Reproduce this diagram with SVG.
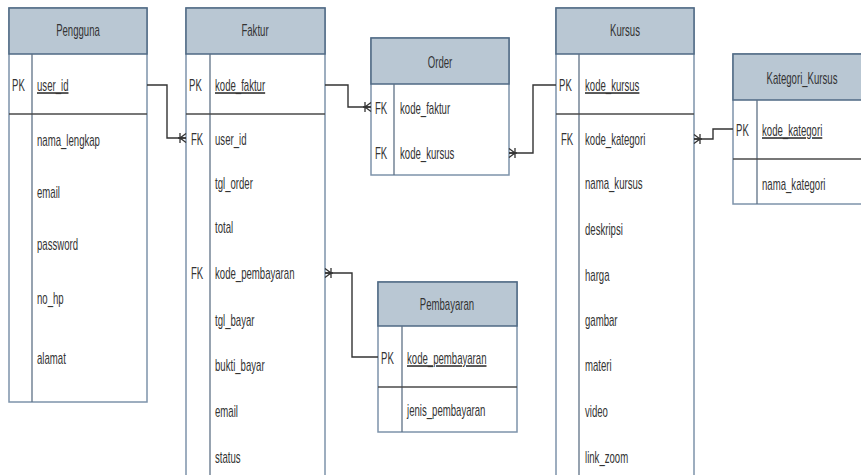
<svg xmlns="http://www.w3.org/2000/svg" width="861" height="475" viewBox="0 0 861 475">
<style>
.bg{fill:#ffffff}
.body{fill:#ffffff;stroke:#7d93aa;stroke-width:1.5}
.head{fill:#b9c7d3;stroke:#4f6984;stroke-width:1.5}
.pkdiv{stroke:#4a4a4a;stroke-width:1.6}
.coldiv{stroke:#5f7186;stroke-width:1.3}
text{font-family:"Liberation Sans",Arial,sans-serif;font-size:16px;fill:#333333}
.ttl{text-anchor:middle}
.u{text-decoration:underline}
.conn{fill:none;stroke:#333333;stroke-width:1.4}
</style>
<defs>
<marker id="many" markerUnits="userSpaceOnUse" viewBox="-10 -7 12 14" markerWidth="12" markerHeight="14" refX="0" refY="0" orient="auto-start-reverse" overflow="visible">
<path d="M-6,0 L0,-4.5 M-6,0 L0,4.5 M-6,-5 L-6,5 M-8,0 L0,0" fill="none" stroke="#333333" stroke-width="1.3"/>
</marker>
</defs>
<rect class="bg" x="0" y="0" width="861" height="475"/>

<g id="Pengguna">
<rect class="body" x="9" y="8" width="138" height="394"/>
<rect class="head" x="9" y="8" width="138" height="46"/>
<line class="coldiv" x1="32" y1="54" x2="32" y2="402"/>
<line class="pkdiv" x1="9" y1="114" x2="147" y2="114"/>
<text class="ttl" transform="translate(78 36) scale(.6 1)">Pengguna</text>
<text transform="translate(12 91) scale(.6 1)">PK</text>
<text class="u" transform="translate(37 91) scale(.6 1)">user_id</text>
<text transform="translate(37 146) scale(.6 1)">nama_lengkap</text>
<text transform="translate(37 198) scale(.6 1)">email</text>
<text transform="translate(37 250) scale(.6 1)">password</text>
<text transform="translate(37 304) scale(.6 1)">no_hp</text>
<text transform="translate(37 364) scale(.6 1)">alamat</text>
</g>

<g id="Faktur">
<rect class="body" x="186" y="8" width="139" height="480"/>
<rect class="head" x="186" y="8" width="139" height="46"/>
<line class="coldiv" x1="210" y1="54" x2="210" y2="480"/>
<line class="pkdiv" x1="186" y1="114" x2="325" y2="114"/>
<text class="ttl" transform="translate(255 36) scale(.6 1)">Faktur</text>
<text transform="translate(189 91) scale(.6 1)">PK</text>
<text class="u" transform="translate(215 91) scale(.6 1)">kode_faktur</text>
<text transform="translate(191 145) scale(.6 1)">FK</text>
<text transform="translate(215 145) scale(.6 1)">user_id</text>
<text transform="translate(215 189) scale(.6 1)">tgl_order</text>
<text transform="translate(215 233) scale(.6 1)">total</text>
<text transform="translate(191 279) scale(.6 1)">FK</text>
<text transform="translate(215 279) scale(.6 1)">kode_pembayaran</text>
<text transform="translate(215 326) scale(.6 1)">tgl_bayar</text>
<text transform="translate(215 371) scale(.6 1)">bukti_bayar</text>
<text transform="translate(215 417) scale(.6 1)">email</text>
<text transform="translate(215 463) scale(.6 1)">status</text>
</g>

<g id="Order">
<rect class="body" x="371" y="38" width="138" height="137"/>
<rect class="head" x="371" y="38" width="138" height="46"/>
<line class="coldiv" x1="394" y1="84" x2="394" y2="175"/>
<text class="ttl" transform="translate(440 68) scale(.6 1)">Order</text>
<text transform="translate(375 114) scale(.6 1)">FK</text>
<text transform="translate(400 114) scale(.6 1)">kode_faktur</text>
<text transform="translate(375 159) scale(.6 1)">FK</text>
<text transform="translate(400 159) scale(.6 1)">kode_kursus</text>
</g>

<g id="Pembayaran">
<rect class="body" x="378" y="282" width="139" height="150"/>
<rect class="head" x="378" y="282" width="139" height="44"/>
<line class="coldiv" x1="402" y1="326" x2="402" y2="432"/>
<line class="pkdiv" x1="378" y1="387" x2="517" y2="387"/>
<text class="ttl" transform="translate(447 310) scale(.6 1)">Pembayaran</text>
<text transform="translate(381 364) scale(.6 1)">PK</text>
<text class="u" transform="translate(407 364) scale(.6 1)">kode_pembayaran</text>
<text transform="translate(407 416) scale(.6 1)">jenis_pembayaran</text>
</g>

<g id="Kursus">
<rect class="body" x="556" y="8" width="138" height="480"/>
<rect class="head" x="556" y="8" width="138" height="46"/>
<line class="coldiv" x1="579" y1="54" x2="579" y2="480"/>
<line class="pkdiv" x1="556" y1="114" x2="694" y2="114"/>
<text class="ttl" transform="translate(625 36) scale(.6 1)">Kursus</text>
<text transform="translate(559 91) scale(.6 1)">PK</text>
<text class="u" transform="translate(585 91) scale(.6 1)">kode_kursus</text>
<text transform="translate(561 145) scale(.6 1)">FK</text>
<text transform="translate(585 145) scale(.6 1)">kode_kategori</text>
<text transform="translate(585 189) scale(.6 1)">nama_kursus</text>
<text transform="translate(585 235) scale(.6 1)">deskripsi</text>
<text transform="translate(585 281) scale(.6 1)">harga</text>
<text transform="translate(585 326) scale(.6 1)">gambar</text>
<text transform="translate(585 371) scale(.6 1)">materi</text>
<text transform="translate(585 417) scale(.6 1)">video</text>
<text transform="translate(585 463) scale(.6 1)">link_zoom</text>
</g>

<g id="Kategori_Kursus">
<rect class="body" x="733" y="54" width="140" height="150"/>
<rect class="head" x="733" y="54" width="140" height="46"/>
<line class="coldiv" x1="757" y1="100" x2="757" y2="204"/>
<line class="pkdiv" x1="733" y1="159" x2="873" y2="159"/>
<text class="ttl" transform="translate(802 84) scale(.6 1)">Kategori_Kursus</text>
<text transform="translate(736 136) scale(.6 1)">PK</text>
<text class="u" transform="translate(762 136) scale(.6 1)">kode_kategori</text>
<text transform="translate(762 190) scale(.6 1)">nama_kategori</text>
</g>

<g id="connectors">
<path class="conn" d="M147,85 H167 V138 H186" marker-end="url(#many)"/>
<path class="conn" d="M325,85 H348 V107 H371" marker-end="url(#many)"/>
<path class="conn" d="M325,273 H352 V357 H378" marker-start="url(#many)"/>
<path class="conn" d="M509,153 H533 V85 H556" marker-start="url(#many)"/>
<path class="conn" d="M694,139 H713 V129 H733" marker-start="url(#many)"/>
</g>
</svg>
